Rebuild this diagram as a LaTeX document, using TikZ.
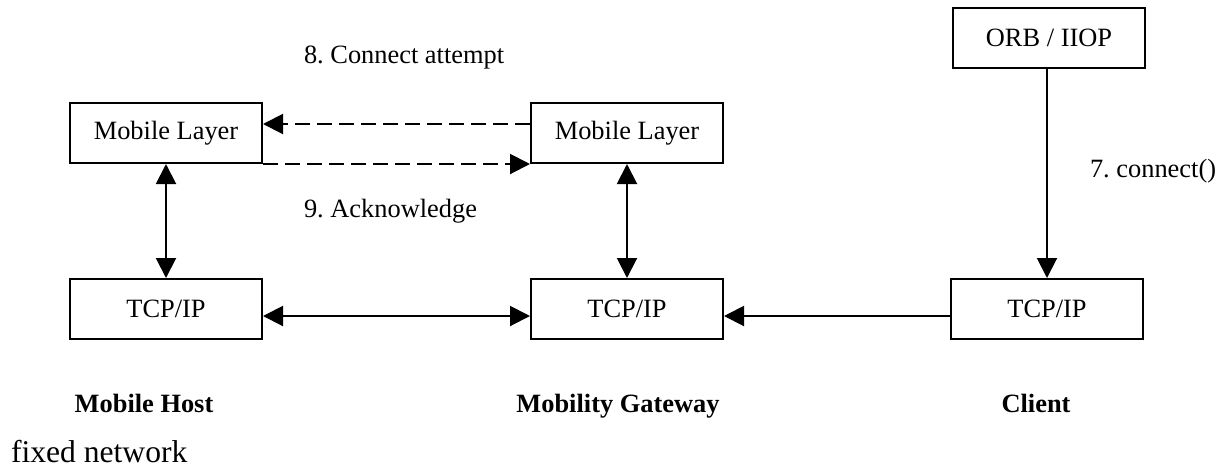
\documentclass[tikz,border=0pt]{standalone}
\usepackage{fontspec}
\setmainfont{Liberation Serif}
\usetikzlibrary{arrows.meta,positioning}
\frenchspacing

\begin{document}
\begin{tikzpicture}[x=0.5pt,y=-0.5pt,>={Triangle[length=10pt,width=10pt]},line width=1pt,
  layer/.style={draw,rectangle,minimum width=96pt,minimum height=30pt,inner sep=0pt,font=\fontsize{13.2}{16}\selectfont},
  msglabel/.style={inner sep=0pt,font=\fontsize{13.2}{16}\selectfont},
  role/.style={inner sep=0pt,font=\fontsize{13.2}{16}\selectfont\bfseries},
  msg/.style={dash pattern=on 7.5pt off 3.5pt}]

\useasboundingbox (0,0) rectangle (1228,468);

\node[layer] (HostML) at (166,133) {Mobile Layer};
\node[layer] (HostTCP) at (166,309) {TCP/IP};
\node[layer] (GwML) at (627,133) {Mobile Layer};
\node[layer] (GwTCP) at (627,309) {TCP/IP};
\node[layer] (ORB) at (1049,38) {ORB / IIOP};
\node[layer] (ClientTCP) at (1047,309) {TCP/IP};

\node[msglabel, anchor=base west] (Attempt) at (303,63) {8. Connect attempt};
\node[msglabel, anchor=base west] (Ack) at (303,217) {9. Acknowledge};
\node[msglabel, anchor=base west] (Connect) at (1089,177) {7. connect()};

\node[role, anchor=base] (HostName) at (144,412) {Mobile Host};
\node[role, anchor=base] (GwName) at (618,412) {Mobility Gateway};
\node[role, anchor=base] (ClientName) at (1036,412) {Client};
\node[msglabel, anchor=base west, font=\fontsize{15.8}{19}\selectfont] (Fixed) at (10,462) {fixed network};

\draw[->,msg] ([yshift=4.5pt]GwML.west) -- ([yshift=4.5pt]HostML.east);
\draw[->,msg] (HostML.south east) -- (GwML.south west);
\draw[<->] (HostML) -- (HostTCP);
\draw[<->] (GwML) -- (GwTCP);
\draw[<->] ([yshift=-3.5pt]HostTCP.east) -- ([yshift=-3.5pt]GwTCP.west);
\draw[->] ([yshift=-3.5pt]ClientTCP.west) -- ([yshift=-3.5pt]GwTCP.east);
\draw[->] (ORB.south -| ClientTCP.north) -- (ClientTCP);

\end{tikzpicture}
\end{document}
